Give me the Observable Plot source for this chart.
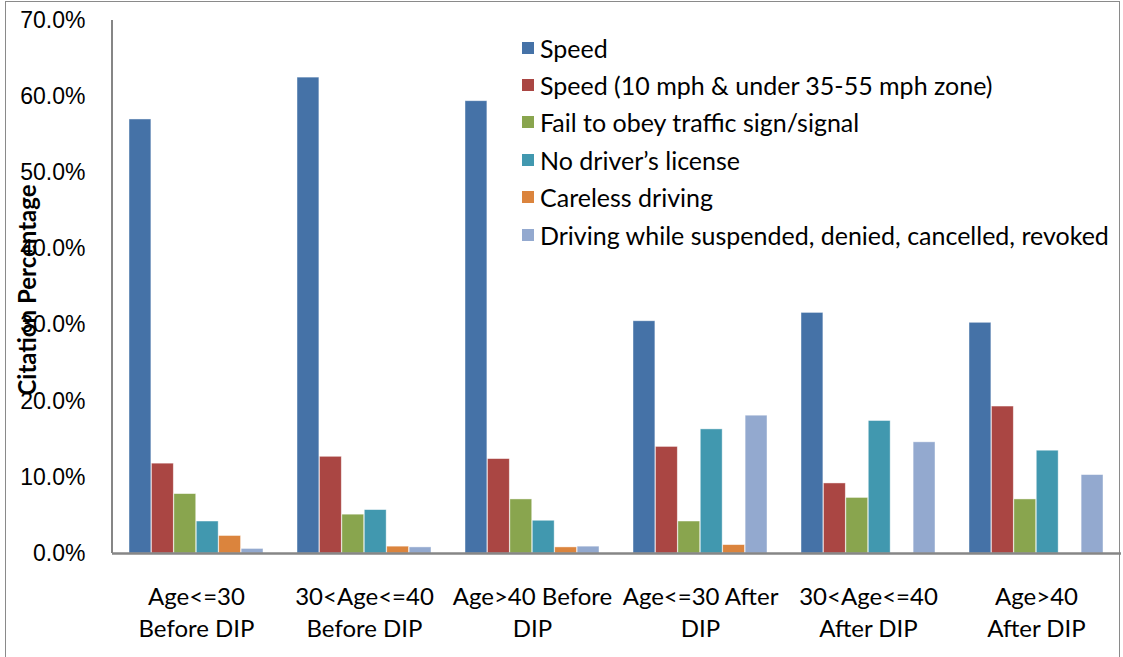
<!DOCTYPE html>
<html>
<head>
<meta charset="utf-8">
<script src="https://cdn.jsdelivr.net/npm/d3@7"></script>
<script src="https://cdn.jsdelivr.net/npm/@observablehq/plot@0.6"></script>
<style>
  html, body { margin: 0; padding: 0; background: #fff; }
  #wrap { position: relative; width: 1123px; height: 657px; overflow: hidden; background: #fff; }
  #box { position: absolute; left: 5px; top: 1px; width: 1115px; height: 660px; border: 1.5px solid #8a8a8a; box-sizing: border-box; }
  #chart { position: absolute; left: 0; top: 0; }
  #ytitle { position: absolute; left: 26px; top: 290px; transform: translate(-50%, -50%) rotate(-90deg); font-family: Lato, sans-serif; font-weight: bold; font-size: 24px; white-space: nowrap; color: #000; }
  #legend { position: absolute; left: 522px; top: 29px; font-family: Lato, sans-serif; font-size: 25px; color: #000; }
  .row { height: 37.4px; display: flex; align-items: center; white-space: nowrap; }
  .sw { width: 12px; height: 12px; margin-right: 6px; flex: none; }
</style>
</head>
<body>
<div id="wrap">
  <div id="box"></div>
  <div id="chart"></div>
  <div id="ytitle">Citation Percentage</div>
  <div id="legend"></div>
</div>
<script>
// ---- data ----
const categories = [
  "Age<=30\nBefore DIP",
  "30<Age<=40\nBefore DIP",
  "Age>40 Before\nDIP",
  "Age<=30 After\nDIP",
  "30<Age<=40\nAfter DIP",
  "Age>40\nAfter DIP"
];
const seriesNames = [
  "Speed",
  "Speed (10 mph & under 35-55 mph zone)",
  "Fail to obey traffic sign/signal",
  "No driver\u2019s license",
  "Careless driving",
  "Driving while suspended, denied, cancelled, revoked"
];
const speed      = [57.0, 62.5, 59.4, 30.5, 31.6, 30.3];
const speed10    = [11.8, 12.7, 12.4, 14.0, 9.2, 19.3];
const failObey   = [7.8, 5.1, 7.1, 4.2, 7.3, 7.1];
const noLicense  = [4.2, 5.7, 4.3, 16.3, 17.4, 13.5];
const careless   = [2.3, 0.9, 0.8, 1.1, 0, 0];
const suspended  = [0.6, 0.8, 0.9, 18.1, 14.6, 10.3];
const yTicks = [0, 10, 20, 30, 40, 50, 60, 70];
const colors = ["#4572A7", "#AA4643", "#89A54E", "#4198AF", "#DB843D", "#93A9CF"];

const seriesValues = [speed, speed10, failObey, noLicense, careless, suspended];

// ---- layout ----
const W = 1123, H = 657;
const mL = 112, mR = 2, mT = 20, mB = 104;
const padInner = 0.2, padOuter = 0.1;
const step = (W - mL - mR) / (categories.length - padInner + 2 * padOuter);
const bandW = step * (1 - padInner);
const barW = bandW / seriesNames.length;

const barMarks = seriesNames.map((name, j) => {
  const rows = categories.map((c, i) => ({cat: c, series: name, value: seriesValues[j][i]}));
  return Plot.barY(rows, {
    x: "cat", y: "value", fill: colors[j],
    insetLeft: j * barW, insetRight: (seriesNames.length - 1 - j) * barW,
    stroke: "#ffffff", strokeOpacity: 0.55, strokeWidth: 0.8
  });
});

const leftAxisLine = (index, scales, values, dims) => {
  const line = document.createElementNS("http://www.w3.org/2000/svg", "line");
  line.setAttribute("x1", dims.marginLeft);
  line.setAttribute("x2", dims.marginLeft);
  line.setAttribute("y1", scales.y(yTicks[yTicks.length - 1]));
  line.setAttribute("y2", scales.y(0));
  line.setAttribute("stroke", "#868686");
  line.setAttribute("stroke-width", 2);
  return line;
};

const chart = Plot.plot({
  width: W, height: H,
  marginLeft: mL, marginRight: mR, marginTop: mT, marginBottom: mB,
  style: {background: "transparent", overflow: "visible"},
  x: {domain: categories, paddingInner: padInner, paddingOuter: padOuter, label: null},
  y: {domain: [0, 70], label: null},
  marks: [
    ...barMarks,
    Plot.axisY({ticks: yTicks, tickSize: 0, tickPadding: 27, tickFormat: d => d.toFixed(1) + "%",
      fontSize: 23, fontFamily: "'Liberation Sans', Arial, sans-serif", fill: "#000", label: null}),
    Plot.axisX({tickSize: 0, tickPadding: 29, fontSize: 24, fontFamily: "Lato, sans-serif", fill: "#000",
      lineHeight: 1.33, label: null}),
    Plot.ruleY([0], {stroke: "#868686", strokeWidth: 2.5}),
    leftAxisLine
  ]
});
document.getElementById("chart").appendChild(chart);

const legend = document.getElementById("legend");
seriesNames.forEach((name, j) => {
  const row = document.createElement("div");
  row.className = "row";
  const sw = document.createElement("span");
  sw.className = "sw";
  sw.style.background = colors[j];
  const t = document.createElement("span");
  t.textContent = name;
  row.appendChild(sw);
  row.appendChild(t);
  legend.appendChild(row);
});
</script>
</body>
</html>
